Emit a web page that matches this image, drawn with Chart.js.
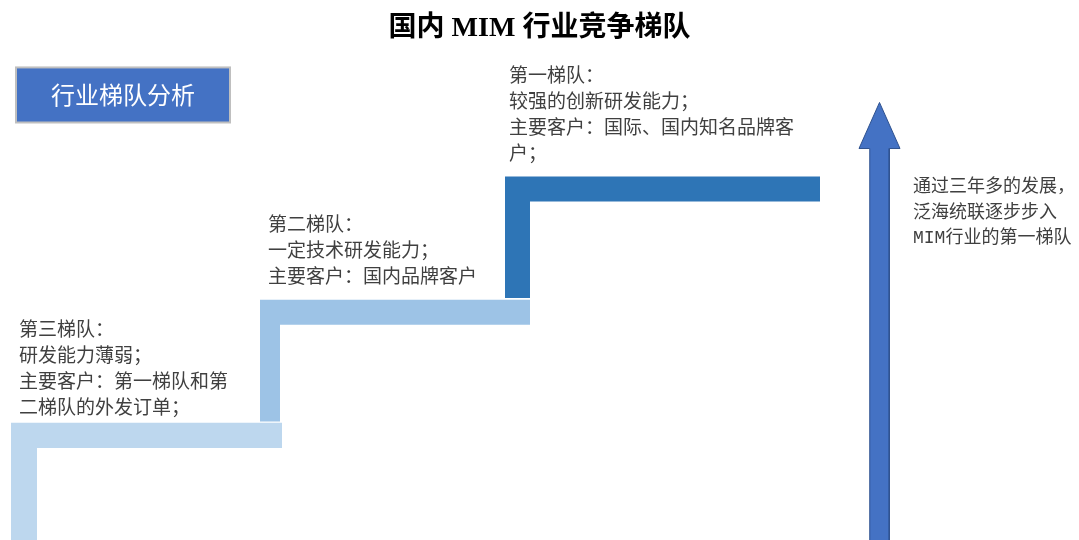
<!DOCTYPE html>
<html><head><meta charset="utf-8">
<script src="https://cdn.jsdelivr.net/npm/chart.js@4/dist/chart.umd.min.js"></script>
<style>html,body{margin:0;padding:0;background:#fff}canvas{display:block}</style>
</head><body>
<canvas id="c" width="1079" height="540"></canvas>
<script>
// ---- content ----
const chartTitle = '国内 MIM 行业竞争梯队';
const badgeText = '行业梯队分析';
const tierNames = ['第三梯队', '第二梯队', '第一梯队'];
const tierDetails = [
  ['研发能力薄弱；', '主要客户：第一梯队和第', '二梯队的外发订单；'],
  ['一定技术研发能力；', '主要客户：国内品牌客户'],
  ['较强的创新研发能力；', '主要客户：国际、国内知名品牌客', '户；']
];
const sideNote = ['通过三年多的发展，', '泛海统联逐步步入', 'MIM行业的第一梯队'];

// ---- step geometry (data units, y measured up from the bottom) ----
const stepLeft = [11, 260, 505];
const stepRight = [282, 530, 820];
const stepTop = [117, 240, 363];
const stepBase = [0, 118.3, 241.7];
const stepTread = [25, 25, 25];
const stepRiser = [26, 20, 25];
const tierColors = ['#BDD7EE', '#9DC3E6', '#2E75B6'];

// text anchors per tier
const textX = [19, 268, 509];
const textTopY = [211, 316, 465];

// arrow
const arrowX = 879.5;
const arrowBase = 0;
const arrowHeadBase = 391;
const arrowTip = 437;
const arrowShaftHalf = 9.75;
const arrowHeadHalf = 20.5;
const sideNoteX = 913;
const sideNoteTopY = 352;

const badgeBox = {x0: 16, x1: 230, y0: 472, y1: 417};

// ---- build datasets ----
function lShape(i) {
  const L = stepLeft[i], R = stepRight[i], T = stepTop[i], B = stepBase[i];
  const th = stepTread[i], rw = stepRiser[i];
  return [
    {x: L, y: B}, {x: L, y: T}, {x: R, y: T}, {x: R, y: T - th},
    {x: L + rw, y: T - th}, {x: L + rw, y: B}, {x: L, y: B}
  ];
}
const datasets = tierNames.map((n, i) => ({
  label: n,
  data: lShape(i),
  backgroundColor: tierColors[i],
  borderColor: tierColors[i],
  borderWidth: 0,
  pointRadius: 0,
  fill: 'shape',
  tension: 0
}));
datasets.push({
  label: 'arrow',
  data: [
    {x: arrowX - arrowShaftHalf, y: arrowBase},
    {x: arrowX - arrowShaftHalf, y: arrowHeadBase},
    {x: arrowX - arrowHeadHalf, y: arrowHeadBase},
    {x: arrowX, y: arrowTip},
    {x: arrowX + arrowHeadHalf, y: arrowHeadBase},
    {x: arrowX + arrowShaftHalf, y: arrowHeadBase},
    {x: arrowX + arrowShaftHalf, y: arrowBase}
  ],
  backgroundColor: '#4472C4',
  borderColor: '#2F528F',
  borderWidth: 1,
  pointRadius: 0,
  fill: 'shape',
  tension: 0
});

const textPlugin = {
  id: 'texts',
  afterDatasetsDraw(chart) {
    const ctx = chart.ctx;
    const xs = chart.scales.x, ys = chart.scales.y;
    const px = v => xs.getPixelForValue(v);
    const py = v => ys.getPixelForValue(v);
    ctx.save();
    // badge
    const bx0 = px(badgeBox.x0), bx1 = px(badgeBox.x1), by0 = py(badgeBox.y0), by1 = py(badgeBox.y1);
    ctx.fillStyle = '#4472C4';
    ctx.fillRect(bx0, by0, bx1 - bx0, by1 - by0);
    ctx.strokeStyle = '#BFBFBF';
    ctx.lineWidth = 2;
    ctx.strokeRect(bx0, by0, bx1 - bx0, by1 - by0);
    ctx.fillStyle = '#FFFFFF';
    ctx.font = '24px "Noto Sans CJK SC", sans-serif';
    ctx.textAlign = 'center';
    ctx.textBaseline = 'middle';
    ctx.fillText(badgeText, (bx0 + bx1) / 2, (by0 + by1) / 2);
    // tier texts
    ctx.textAlign = 'left';
    ctx.fillStyle = '#404040';
    ctx.font = '19px "Noto Sans CJK SC", sans-serif';
    const lh = 26;
    tierNames.forEach((n, i) => {
      const lines = [n + '：'].concat(tierDetails[i]);
      lines.forEach((t, j) => ctx.fillText(t, px(textX[i]), py(textTopY[i] - j * lh)));
    });
    // side note
    ctx.font = '18px "Liberation Mono", "Noto Sans CJK SC", monospace';
    sideNote.forEach((t, j) => ctx.fillText(t, px(sideNoteX), py(sideNoteTopY - j * 25.5)));
    ctx.restore();
  }
};

new Chart(document.getElementById('c'), {
  type: 'line',
  data: {datasets},
  options: {
    responsive: false,
    devicePixelRatio: 1,
    animation: false,
    layout: {padding: 0},
    scales: {
      x: {type: 'linear', display: false, min: 0, max: 1079},
      y: {type: 'linear', display: false, min: 0, max: 495.6}
    },
    plugins: {
      legend: {display: false},
      tooltip: {enabled: false},
      title: {
        display: true,
        text: chartTitle,
        color: '#000000',
        font: {family: '"Liberation Serif", "Noto Sans CJK SC", serif', size: 28, weight: 'bold', lineHeight: 1.1},
        padding: {top: 13, bottom: 0}
      }
    }
  },
  plugins: [textPlugin]
});
</script>
</body></html>
